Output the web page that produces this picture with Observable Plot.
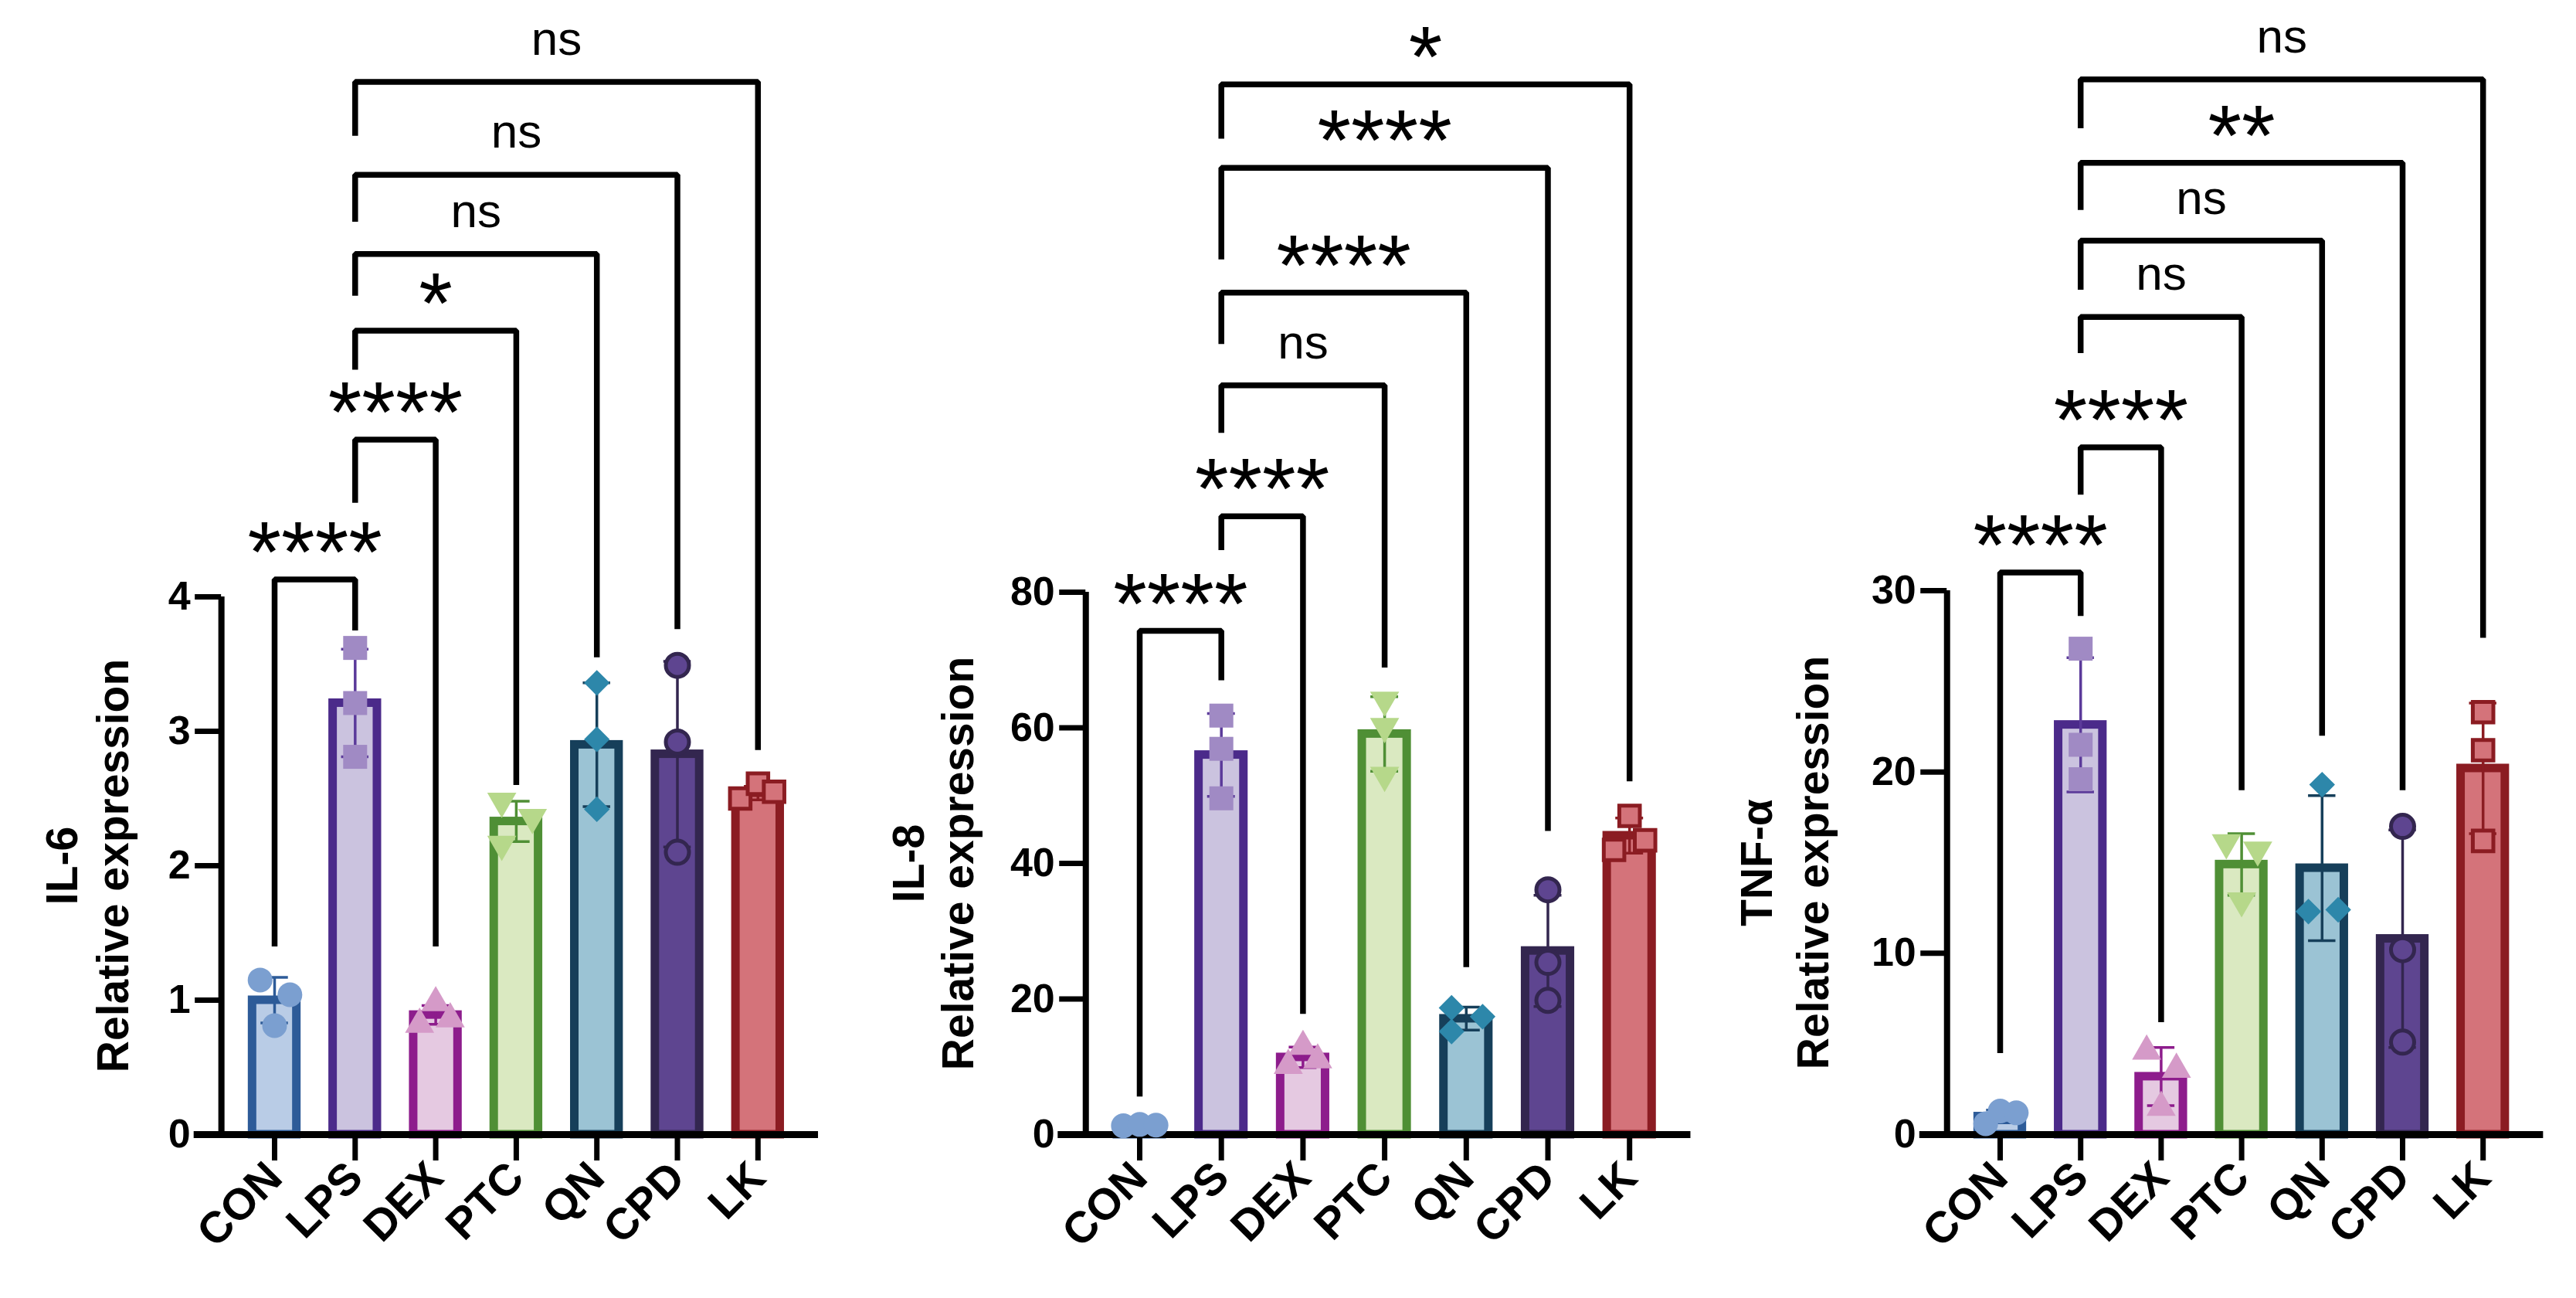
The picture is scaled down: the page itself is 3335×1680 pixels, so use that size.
<!DOCTYPE html>
<html>
<head>
<meta charset="utf-8">
<script src="https://cdn.jsdelivr.net/npm/d3@7"></script>
<script src="https://cdn.jsdelivr.net/npm/@observablehq/plot@0.6"></script>
<style>
  html, body { margin: 0; padding: 0; background: #ffffff; }
  #wrap { position: relative; width: 3335px; height: 1680px; overflow: hidden; background: #fff; }
  .panel { position: absolute; top: 0; }
</style>
</head>
<body>
<div id="wrap">
  <div class="panel" id="p1" style="left:0px"></div>
  <div class="panel" id="p2" style="left:1110px"></div>
  <div class="panel" id="p3" style="left:2220px"></div>
</div>
<script>
// ---------------- DATA ----------------
const categories = ["CON", "LPS", "DEX", "PTC", "QN", "CPD", "LK"];

// IL-6
const il6Mean = [1.00, 3.21, 0.89, 2.33, 2.90, 2.83, 2.54];
const il6SD   = [0.17, 0.40, 0.07, 0.15, 0.46, 0.69, 0.05];
const il6Points = [[1.15, 1.04, 0.81], [3.62, 3.21, 2.81], [0.98, 0.82, 0.86], [2.48, 2.36, 2.16], [3.36, 2.94, 2.42], [3.49, 2.92, 2.10], [2.50, 2.61, 2.55]];
const il6Ticks = [0, 1, 2, 3, 4];
const il6Brackets = [["CON", "LPS"], ["LPS", "DEX"], ["LPS", "PTC"], ["LPS", "QN"], ["LPS", "CPD"], ["LPS", "LK"]];
const il6Labels = ["****", "****", "*", "ns", "ns", "ns"];
const il6BracketTop = [4.13, 5.17, 5.98, 6.55, 7.14, 7.83];
const il6BracketLeftEnd = [1.40, 4.70, 5.69, 6.24, 6.79, 7.43];
const il6BracketRightEnd = [3.75, 1.40, 2.60, 3.55, 3.76, 2.86];

// IL-8
const il8Mean = [1.4, 56.0, 11.4, 59.1, 17.1, 27.1, 44.1];
const il8SD   = [0.2, 6.1, 1.5, 5.5, 1.7, 8.2, 2.6];
const il8Points = [[1.3, 1.5, 1.4], [61.8, 56.9, 49.6], [13.0, 10.2, 11.0], [64.1, 60.2, 53.0], [18.7, 17.4, 15.2], [36.1, 25.4, 19.8], [47.0, 42.0, 43.4]];
const il8Ticks = [0, 20, 40, 60, 80];
const il8Brackets = [["CON", "LPS"], ["LPS", "DEX"], ["LPS", "PTC"], ["LPS", "QN"], ["LPS", "CPD"], ["LPS", "LK"]];
const il8Labels = ["****", "****", "ns", "****", "****", "*"];
const il8BracketTop = [74.3, 91.2, 110.5, 124.2, 142.6, 154.9];
const il8BracketLeftEnd = [5.6, 86.2, 103.5, 116.6, 129.1, 146.9];
const il8BracketRightEnd = [67.0, 17.8, 68.9, 24.7, 44.8, 52.1];

// TNF-α
const tnfMean = [1.0, 22.6, 3.2, 14.9, 14.7, 10.8, 20.2];
const tnfSD   = [0.35, 3.7, 1.6, 1.7, 4.0, 6.0, 3.6];
const tnfPoints = [[0.6, 1.3, 1.2], [26.8, 21.5, 19.6], [4.6, 3.6, 1.5], [16.1, 15.7, 12.9], [19.3, 12.3, 12.4], [17.0, 10.2, 5.1], [23.3, 21.2, 16.2]];
const tnfTicks = [0, 10, 20, 30];
const tnfBrackets = [["CON", "LPS"], ["LPS", "DEX"], ["LPS", "PTC"], ["LPS", "QN"], ["LPS", "CPD"], ["LPS", "LK"]];
const tnfLabels = ["****", "****", "ns", "ns", "**", "ns"];
const tnfBracketTop = [31.0, 37.9, 45.1, 49.3, 53.6, 58.2];
const tnfBracketLeftEnd = [4.5, 35.3, 43.1, 46.6, 51.0, 55.5];
const tnfBracketRightEnd = [28.6, 6.2, 19.0, 22.0, 19.0, 27.4];

// ---------------- STYLE / LAYOUT ----------------
const barFill   = ["#b9cce6", "#cbc3df", "#e5c9e1", "#dae9c1", "#9bc3d4", "#5e4590", "#d4737a"];
const barStroke = ["#2d5b98", "#4b2a8a", "#8d1c8c", "#4f8f35", "#163f5a", "#33264f", "#8b1c22"];
const errColor  = ["#2d5b98", "#5b3a9a", "#8d1c8c", "#4f8f35", "#163f5a", "#33264f", "#8b1c22"];
const dotFill   = ["#7b9fd0", "#a08ac4", "#d59ac8", "#b6d88a", "#2d87aa", "#5e4590", "#d4737a"];
const dotStroke = ["none", "none", "none", "none", "none", "#33264f", "#8b1c22"];
const dotSymbol = ["circle", "square", "triangle", "triangle", "diamond2", "circle", "square"];
const dotRotate = [0, 0, 0, 180, 0, 0, 0];
const dotR      = [16, 17.5, 14, 14, 15, 15, 15];

// horizontal jitter of the three replicate points (in category units)
const il6Jitter = [[-0.18, 0.19, 0], [0, 0, 0], [0, -0.2, 0.18], [-0.18, 0.2, -0.18], [0, 0, 0], [0, 0, 0], [-0.22, 0, 0.2]];
const il8Jitter = [[-0.2, 0, 0.2], [0, 0, 0], [0, -0.18, 0.18], [0, 0, 0], [-0.18, 0.2, -0.18], [0, 0, 0], [0, -0.19, 0.19]];
const tnfJitter = [[-0.18, 0, 0.2], [0, 0, 0], [-0.18, 0.19, 0], [-0.19, 0.2, 0], [0, -0.17, 0.2], [0, 0, 0], [0, 0, 0]];

const FONT = "'Liberation Sans', Arial, Helvetica, sans-serif";
const H = 1680;

const panels = [
  {el: "p1", width: 1110, left: 0, x0: 355, step: 104.3, yTop: 772, yZero: 1468, title: "IL-6",
   mean: il6Mean, sd: il6SD, pts: il6Points, jit: il6Jitter, ticks: il6Ticks,
   br: il6Brackets, lab: il6Labels, bt: il6BracketTop, bl: il6BracketLeftEnd, brr: il6BracketRightEnd,
   titleDx: [-205, -139]},
  {el: "p2", width: 1110, left: 1110, x0: 1475, step: 105.7, yTop: 766, yZero: 1468, title: "IL-8",
   mean: il8Mean, sd: il8SD, pts: il8Points, jit: il8Jitter, ticks: il8Ticks,
   br: il8Brackets, lab: il8Labels, bt: il8BracketTop, bl: il8BracketLeftEnd, brr: il8BracketRightEnd,
   titleDx: [-228, -164]},
  {el: "p3", width: 1115, left: 2220, x0: 2589, step: 104.2, yTop: 764, yZero: 1468, title: "TNF-α",
   mean: tnfMean, sd: tnfSD, pts: tnfPoints, jit: tnfJitter, ticks: tnfTicks,
   br: tnfBrackets, lab: tnfLabels, bt: tnfBracketTop, bl: tnfBracketLeftEnd, brr: tnfBracketRightEnd,
   titleDx: [-245, -172]}
];

const X_AXIS = -0.66, X_START = -1.0, X_END = 6.75;
const HALF_BAR = 0.275, HALF_CAP = 0.17;

for (const p of panels) {
  const top = p.ticks[p.ticks.length - 1];
  const axisPx = p.x0 + X_AXIS * p.step;
  const endPx = p.x0 + X_END * p.step;
  const idx = c => categories.indexOf(c);

  const bars = categories.map((c, i) => ({i, c, mean: p.mean[i], sd: p.sd[i]}));
  const caps = bars.flatMap(d => [
    {i: d.i, y: d.mean + d.sd},
    {i: d.i, y: d.mean - d.sd}
  ]);
  const dots = p.pts.flatMap((arr, i) => arr.map((v, j) => ({i, x: i + p.jit[i][j], y: v})));
  const brackets = p.br.map((pair, k) => ({
    k, a: idx(pair[0]), b: idx(pair[1]), label: p.lab[k],
    top: p.bt[k], lend: p.bl[k], rend: p.brr[k]
  }));
  const bracketPath = brackets.flatMap(d => [
    {k: d.k, x: d.a, y: d.lend},
    {k: d.k, x: d.a, y: d.top},
    {k: d.k, x: d.b, y: d.top},
    {k: d.k, x: d.b, y: d.rend}
  ]);

  // one dot mark per group so that symbol size/shape stay literal
  const dotMarks = categories.map((c, i) => Plot.dot(dots.filter(d => d.i === i), {
    x: "x", y: "y", symbol: dotSymbol[i], rotate: dotRotate[i], r: dotR[i],
    fill: dotFill[i], stroke: dotStroke[i], strokeWidth: 5
  }));

  const chart = Plot.plot({
    width: p.width,
    height: H,
    marginLeft: axisPx - p.left,
    marginRight: p.width - (endPx - p.left),
    marginTop: p.yTop,
    marginBottom: H - p.yZero,
    x: {domain: [X_AXIS, X_END]},
    y: {domain: [0, top]},
    style: {fontFamily: FONT, background: "transparent", color: "#000", overflow: "visible"},
    marks: [
      // bars
      Plot.rect(bars, {
        x1: d => d.i - HALF_BAR, x2: d => d.i + HALF_BAR, y1: 0, y2: "mean",
        fill: d => barFill[d.i], stroke: d => barStroke[d.i], strokeWidth: 11
      }),
      // axes lines
      Plot.ruleY([0], {x1: X_START, x2: X_END, stroke: "#000", strokeWidth: 9}),
      Plot.ruleX([X_AXIS], {y1: 0, y2: top, stroke: "#000", strokeWidth: 8}),
      Plot.axisY({ticks: p.ticks, tickSize: 34, tickPadding: 6, fontSize: 52, fontWeight: "bold", strokeWidth: 7, tickFormat: d => String(d)}),
      Plot.axisX({ticks: d3.range(categories.length), tickFormat: i => categories[i], tickSize: 34, tickPadding: 12,
        tickRotate: -45, fontSize: 57, fontWeight: "bold", strokeWidth: 7}),
      // error bars
      Plot.ruleX(bars, {x: "i", y1: d => d.mean - d.sd, y2: d => d.mean + d.sd, stroke: d => errColor[d.i], strokeWidth: 3.5}),
      Plot.ruleY(caps, {y: "y", x1: d => d.i - HALF_CAP, x2: d => d.i + HALF_CAP, stroke: d => errColor[d.i], strokeWidth: 3.5}),
      // replicate points
      ...dotMarks,
      // significance brackets
      Plot.line(bracketPath, {x: "x", y: "y", z: "k", stroke: "#000", strokeWidth: 7.5,
        strokeLinejoin: "miter", strokeLinecap: "butt"}),
      Plot.text(brackets.filter(d => d.label === "ns"), {
        x: d => (d.a + d.b) / 2, y: "top", text: "label", lineAnchor: "bottom", dy: -35,
        fontSize: 62, fontWeight: "normal", fill: "#000"
      }),
      Plot.text(brackets.filter(d => d.label !== "ns"), {
        x: d => (d.a + d.b) / 2, y: "top", text: "label", lineAnchor: "bottom", dy: 3,
        fontSize: 112, fontWeight: "normal", fill: "#000"
      }),
      // y titles
      Plot.text([p.title], {text: d => d, frameAnchor: "left", textAnchor: "middle", rotate: -90, dx: p.titleDx[0],
        fontSize: 57, fontWeight: "bold", fill: "#000"}),
      Plot.text(["Relative expression"], {text: d => d, frameAnchor: "left", textAnchor: "middle", rotate: -90, dx: p.titleDx[1],
        fontSize: 57, fontWeight: "bold", fill: "#000"})
    ]
  });
  document.getElementById(p.el).appendChild(chart);
}
</script>
</body>
</html>
